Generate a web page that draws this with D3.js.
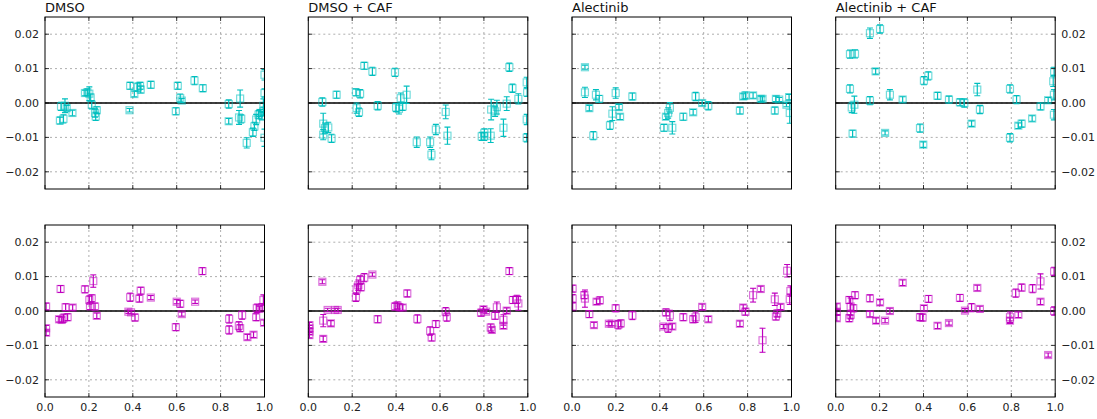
<!DOCTYPE html>
<html><head><meta charset="utf-8">
<script src="https://cdn.jsdelivr.net/npm/d3@7"></script>
<style>
html,body{margin:0;padding:0;background:#fff;}
svg{display:block;font-family:"DejaVu Sans",sans-serif;}
</style></head>
<body><svg id="chart" width="1097" height="419"></svg>
<script>
const titles = ["DMSO", "DMSO + CAF", "Alectinib", "Alectinib + CAF"];
const xTicks = [0, 0.2, 0.4, 0.6, 0.8, 1.0];
const yTicks = [-0.02, -0.01, 0, 0.01, 0.02];
const rowColors = ["#00BFBF", "#BF00BF"];

// [x, y, err]
const dmsoTop = [[0.068,-0.0051,0.0010],[0.084,-0.0046,0.0012],[0.073,-0.0010,0.0012],[0.091,-0.0008,0.0020],[0.099,-0.0015,0.0008],[0.125,-0.0029,0.0008],[0.182,0.0029,0.0008],[0.193,0.0031,0.0010],[0.202,0.0027,0.0020],[0.208,0.0016,0.0010],[0.213,-0.0005,0.0012],[0.228,-0.0029,0.0012],[0.236,-0.0021,0.0010],[0.231,-0.0039,0.0012],[0.385,-0.0021,0.0005],[0.388,0.0050,0.0010],[0.407,0.0026,0.0008],[0.422,0.0046,0.0012],[0.433,0.0050,0.0010],[0.436,0.0039,0.0010],[0.482,0.0053,0.0010],[0.596,-0.0024,0.0010],[0.605,0.0050,0.0010],[0.616,0.0014,0.0012],[0.623,0.0007,0.0006],[0.681,0.0065,0.0012],[0.719,0.0043,0.0010],[0.837,-0.0003,0.0012],[0.837,-0.0053,0.0008],[0.884,-0.0042,0.0020],[0.889,0.0013,0.0025],[0.894,-0.0046,0.0012],[0.919,-0.0116,0.0015],[0.947,-0.0085,0.0012],[0.954,-0.0068,0.0012],[0.962,-0.0048,0.0015],[0.973,-0.0034,0.0012],[0.980,-0.0029,0.0010],[0.988,-0.0037,0.0012],[0.995,-0.0008,0.0020],[1.0,0.0029,0.0012],[1.0,0.0082,0.0015],[1.0,-0.0101,0.0025],[0.995,-0.0024,0.0012]];
const dmsoBottom = [[0.005,0.0013,0.0010],[0.005,-0.0050,0.0008],[0.005,-0.0063,0.0008],[0.071,0.0064,0.0010],[0.064,-0.0024,0.0008],[0.076,-0.0026,0.0008],[0.084,-0.0021,0.0012],[0.094,0.0011,0.0010],[0.103,-0.0018,0.0010],[0.126,0.0010,0.0008],[0.182,0.0063,0.0010],[0.202,0.0032,0.0012],[0.205,0.0014,0.0010],[0.213,0.0037,0.0010],[0.220,0.0087,0.0018],[0.228,0.0013,0.0010],[0.236,-0.0014,0.0008],[0.380,-0.0002,0.0005],[0.388,0.0040,0.0012],[0.392,-0.0004,0.0005],[0.410,-0.0019,0.0010],[0.430,0.0036,0.0010],[0.436,0.0059,0.0010],[0.482,0.0039,0.0006],[0.596,-0.0047,0.0010],[0.600,0.0027,0.0006],[0.616,0.0021,0.0010],[0.623,-0.0009,0.0006],[0.684,0.0027,0.0005],[0.717,0.0116,0.0010],[0.839,-0.0023,0.0012],[0.839,-0.0055,0.0012],[0.883,-0.0043,0.0012],[0.889,-0.0050,0.0010],[0.898,-0.0012,0.0012],[0.922,-0.0076,0.0008],[0.950,-0.0069,0.0008],[0.962,-0.0018,0.0010],[0.965,0.0008,0.0012],[0.977,0.0006,0.0008],[0.989,0.0011,0.0010],[0.995,0.0032,0.0015],[0.998,-0.0034,0.0008]];
const dmsoCafTop = [[0.064,0.0003,0.0012],[0.068,-0.0060,0.0030],[0.076,-0.0073,0.0015],[0.068,-0.0092,0.0015],[0.091,-0.0071,0.0015],[0.106,-0.0103,0.0012],[0.129,0.0024,0.0010],[0.217,0.0031,0.0010],[0.236,0.0027,0.0012],[0.220,-0.0015,0.0015],[0.231,-0.0027,0.0012],[0.255,0.0108,0.0010],[0.292,0.0092,0.0012],[0.316,-0.0008,0.0012],[0.395,0.0089,0.0012],[0.400,-0.0013,0.0012],[0.413,-0.0017,0.0015],[0.421,0.0014,0.0015],[0.430,-0.0010,0.0012],[0.448,0.0024,0.0025],[0.494,-0.0114,0.0015],[0.555,-0.0114,0.0015],[0.561,-0.0150,0.0015],[0.581,-0.0077,0.0015],[0.626,-0.0026,0.0020],[0.634,-0.0095,0.0025],[0.790,-0.0097,0.0012],[0.801,-0.0097,0.0012],[0.802,-0.0087,0.0012],[0.831,-0.0095,0.0020],[0.833,-0.0019,0.0030],[0.851,-0.0024,0.0015],[0.859,-0.0012,0.0020],[0.889,-0.0072,0.0025],[0.904,-0.0002,0.0020],[0.916,0.0104,0.0012],[0.930,0.0043,0.0012],[0.957,0.0012,0.0015],[0.995,0.0060,0.0015],[0.997,0.0031,0.0012],[0.995,-0.0048,0.0015],[0.995,-0.0101,0.0012]];
const dmsoCafBottom = [[0.005,-0.0041,0.0008],[0.005,-0.0050,0.0008],[0.005,-0.0060,0.0008],[0.005,-0.0070,0.0008],[0.064,0.0085,0.0006],[0.068,-0.0028,0.0018],[0.068,-0.0081,0.0008],[0.088,0.0003,0.0005],[0.103,-0.0036,0.0008],[0.122,0.0003,0.0005],[0.134,0.0003,0.0005],[0.217,0.0040,0.0012],[0.220,0.0063,0.0015],[0.228,0.0075,0.0015],[0.236,0.0090,0.0012],[0.240,0.0069,0.0010],[0.255,0.0097,0.0012],[0.292,0.0106,0.0005],[0.316,-0.0024,0.0010],[0.395,0.0013,0.0010],[0.406,0.0016,0.0010],[0.415,0.0011,0.0010],[0.430,0.0010,0.0008],[0.451,0.0051,0.0010],[0.497,-0.0023,0.0012],[0.555,-0.0058,0.0012],[0.562,-0.0077,0.0010],[0.581,-0.0038,0.0010],[0.626,-0.0002,0.0012],[0.631,-0.0018,0.0012],[0.787,-0.0005,0.0010],[0.798,0.0005,0.0008],[0.810,-0.0002,0.0006],[0.831,-0.0048,0.0010],[0.836,-0.0055,0.0008],[0.851,-0.0014,0.0010],[0.859,0.0011,0.0015],[0.889,-0.0026,0.0015],[0.889,-0.0043,0.0008],[0.904,0.0001,0.0008],[0.916,0.0116,0.0010],[0.932,0.0032,0.0010],[0.950,0.0034,0.0012],[0.957,0.0022,0.0020]];
const alecTop = [[0.059,0.0104,0.0006],[0.059,0.0031,0.0015],[0.079,-0.0015,0.0008],[0.097,-0.0095,0.0012],[0.109,0.0024,0.0015],[0.124,0.0012,0.0010],[0.173,-0.0065,0.0012],[0.184,-0.0031,0.0020],[0.199,0.0029,0.0015],[0.214,-0.0012,0.0008],[0.219,-0.0040,0.0008],[0.275,0.0019,0.0010],[0.419,-0.0072,0.0010],[0.428,-0.0040,0.0008],[0.438,-0.0029,0.0015],[0.446,-0.0014,0.0015],[0.457,-0.0072,0.0018],[0.507,-0.0040,0.0010],[0.552,-0.0027,0.0008],[0.563,0.0019,0.0012],[0.593,0.0000,0.0008],[0.621,-0.0008,0.0012],[0.765,-0.0022,0.0010],[0.780,0.0019,0.0008],[0.790,0.0022,0.0010],[0.825,0.0022,0.0008],[0.860,0.0012,0.0008],[0.868,0.0012,0.0006],[0.924,-0.0022,0.0010],[0.929,0.0012,0.0008],[0.944,0.0010,0.0006],[0.977,-0.0005,0.0006],[0.989,0.0017,0.0008],[0.992,-0.0029,0.0030]];
const alecBottom = [[0.003,0.0065,0.0010],[0.003,0.0036,0.0012],[0.003,0.0013,0.0012],[0.059,0.0036,0.0025],[0.056,0.0046,0.0010],[0.079,-0.0009,0.0010],[0.100,-0.0041,0.0008],[0.112,0.0027,0.0008],[0.127,0.0031,0.0010],[0.168,-0.0037,0.0006],[0.181,-0.0037,0.0006],[0.199,0.0008,0.0010],[0.211,-0.0040,0.0012],[0.222,-0.0036,0.0010],[0.275,-0.0013,0.0012],[0.416,-0.0045,0.0006],[0.428,-0.0004,0.0010],[0.438,-0.0050,0.0012],[0.446,-0.0013,0.0015],[0.457,-0.0045,0.0008],[0.507,-0.0018,0.0010],[0.552,-0.0024,0.0010],[0.563,-0.0018,0.0015],[0.593,0.0012,0.0008],[0.621,-0.0024,0.0008],[0.765,-0.0037,0.0008],[0.780,0.0010,0.0008],[0.790,-0.0002,0.0010],[0.825,0.0046,0.0020],[0.860,0.0064,0.0008],[0.868,-0.0085,0.0035],[0.924,0.0034,0.0018],[0.929,-0.0016,0.0010],[0.935,-0.0007,0.0010],[0.950,0.0012,0.0008],[0.980,0.0117,0.0018],[0.992,0.0034,0.0015],[0.995,0.0058,0.0015]];
const alecCafTop = [[0.065,0.0142,0.0012],[0.088,0.0143,0.0012],[0.065,0.0041,0.0012],[0.073,-0.0013,0.0015],[0.085,-0.0005,0.0025],[0.077,-0.0089,0.0010],[0.156,0.0203,0.0015],[0.156,0.0007,0.0012],[0.202,0.0215,0.0012],[0.182,0.0092,0.0008],[0.225,-0.0087,0.0006],[0.247,0.0024,0.0015],[0.305,0.0010,0.0008],[0.384,-0.0073,0.0012],[0.399,-0.0121,0.0008],[0.402,0.0065,0.0012],[0.422,0.0079,0.0012],[0.464,0.0021,0.0010],[0.516,0.0010,0.0010],[0.566,0.0002,0.0010],[0.586,0.0000,0.0012],[0.619,-0.0060,0.0008],[0.645,0.0039,0.0018],[0.657,-0.0019,0.0012],[0.794,0.0041,0.0012],[0.794,-0.0101,0.0012],[0.824,0.0010,0.0012],[0.832,-0.0066,0.0008],[0.847,-0.0060,0.0010],[0.895,-0.0045,0.0008],[0.933,-0.0010,0.0010],[0.968,0.0008,0.0008],[0.991,0.0063,0.0015],[0.994,0.0024,0.0015],[0.994,-0.0034,0.0015],[0.995,0.0092,0.0012]];
const alecCafBottom = [[0.005,0.0013,0.0008],[0.005,-0.0002,0.0008],[0.005,-0.0021,0.0008],[0.062,0.0032,0.0010],[0.062,-0.0021,0.0010],[0.068,0.0013,0.0025],[0.068,-0.0011,0.0012],[0.080,0.0008,0.0010],[0.088,0.0046,0.0010],[0.156,0.0037,0.0010],[0.156,-0.0009,0.0008],[0.184,-0.0028,0.0008],[0.202,0.0025,0.0008],[0.225,-0.0028,0.0006],[0.247,0.0000,0.0008],[0.305,0.0082,0.0008],[0.384,-0.0018,0.0010],[0.396,-0.0019,0.0010],[0.402,0.0008,0.0008],[0.423,0.0035,0.0010],[0.464,-0.0043,0.0008],[0.516,-0.0035,0.0006],[0.566,0.0038,0.0010],[0.589,0.0001,0.0006],[0.619,0.0010,0.0012],[0.645,0.0067,0.0008],[0.657,0.0006,0.0008],[0.794,-0.0018,0.0015],[0.794,-0.0028,0.0008],[0.820,0.0052,0.0012],[0.832,-0.0011,0.0008],[0.847,0.0068,0.0010],[0.897,0.0065,0.0012],[0.933,0.0086,0.0022],[0.933,0.0027,0.0008],[0.968,-0.0128,0.0006],[0.995,0.0115,0.0012],[0.995,0.0000,0.0012]];

const panelData = [
  [dmsoTop, dmsoCafTop, alecTop, alecCafTop],
  [dmsoBottom, dmsoCafBottom, alecBottom, alecCafBottom]
];

const svg = d3.select("#chart");
const lefts = [45, 308.3, 572, 835.7];
const tops = [17, 225];
const W = 219.5, H = 172;
const fmtY = v => (v < 0 ? "\u2212" : "") + Math.abs(v).toFixed(2);
const fmtX = v => v.toFixed(1);
const defs = svg.append("defs");

for (let r = 0; r < 2; r++) {
  for (let c = 0; c < 4; c++) {
    const data = panelData[r][c];
    const color = rowColors[r];
    const x = d3.scaleLinear().domain([0, 1]).range([0, W]);
    const y = d3.scaleLinear().domain([-0.025, 0.025]).range([H, 0]);
    const g = svg.append("g").attr("transform", `translate(${lefts[c]},${tops[r]})`);
    const cid = `clip${r}${c}`;
    defs.append("clipPath").attr("id", cid).append("rect").attr("x", 0).attr("y", 0).attr("width", W).attr("height", H);

    // grid
    const grid = g.append("g");
    grid.selectAll("line.gx").data(xTicks.slice(1, -1)).join("line")
      .attr("x1", d => x(d)).attr("x2", d => x(d)).attr("y1", 0).attr("y2", H)
      .attr("stroke", "#999").attr("stroke-width", 0.8).attr("stroke-dasharray", "2,3");
    grid.selectAll("line.gy").data(yTicks).join("line")
      .attr("x1", 0).attr("x2", W).attr("y1", d => y(d)).attr("y2", d => y(d))
      .attr("stroke", "#999").attr("stroke-width", 0.8).attr("stroke-dasharray", "2,3");

    // zero line
    g.append("line").attr("x1", 0).attr("x2", W).attr("y1", y(0)).attr("y2", y(0))
      .attr("stroke", "#000").attr("stroke-width", 1.3);

    // data
    const pts = g.append("g").attr("clip-path", `url(#${cid})`);
    const pg = pts.selectAll("g").data(data).join("g");
    pg.append("line")
      .attr("x1", d => x(d[0])).attr("x2", d => x(d[0]))
      .attr("y1", d => y(d[1] - d[2])).attr("y2", d => y(d[1] + d[2]))
      .attr("stroke", color).attr("stroke-width", 1.2);
    pg.append("line")
      .attr("x1", d => x(d[0]) - 3).attr("x2", d => x(d[0]) + 3)
      .attr("y1", d => y(d[1] + d[2])).attr("y2", d => y(d[1] + d[2]))
      .attr("stroke", color).attr("stroke-width", 1.1);
    pg.append("line")
      .attr("x1", d => x(d[0]) - 3).attr("x2", d => x(d[0]) + 3)
      .attr("y1", d => y(d[1] - d[2])).attr("y2", d => y(d[1] - d[2]))
      .attr("stroke", color).attr("stroke-width", 1.1);
    pg.append("rect")
      .attr("x", d => x(d[0]) - 3.5).attr("y", d => y(d[1]) - 3.5)
      .attr("width", 7).attr("height", 7)
      .attr("fill", "none").attr("stroke", color).attr("stroke-opacity", 0.55).attr("stroke-width", 1.2);

    // inward ticks
    const tk = g.append("g").attr("stroke", "#000").attr("stroke-width", 0.8);
    xTicks.forEach(t => {
      tk.append("line").attr("x1", x(t)).attr("x2", x(t)).attr("y1", H).attr("y2", H - 4);
      tk.append("line").attr("x1", x(t)).attr("x2", x(t)).attr("y1", 0).attr("y2", 4);
    });
    yTicks.forEach(t => {
      tk.append("line").attr("x1", 0).attr("x2", 4).attr("y1", y(t)).attr("y2", y(t));
      tk.append("line").attr("x1", W).attr("x2", W - 4).attr("y1", y(t)).attr("y2", y(t));
    });

    // frame
    g.append("rect").attr("x", 0).attr("y", 0).attr("width", W).attr("height", H)
      .attr("fill", "none").attr("stroke", "#000").attr("stroke-width", 1);

    // tick labels
    if (c === 0) {
      g.selectAll("text.yl").data(yTicks).join("text")
        .attr("x", -6).attr("y", d => y(d)).attr("dy", "0.35em")
        .attr("text-anchor", "end").attr("font-size", 11).attr("fill", "#222")
        .text(fmtY);
    }
    if (c === 3) {
      g.selectAll("text.yr").data(yTicks).join("text")
        .attr("x", W + 6).attr("y", d => y(d)).attr("dy", "0.35em")
        .attr("text-anchor", "start").attr("font-size", 11).attr("fill", "#222")
        .text(fmtY);
    }
    if (r === 1) {
      g.selectAll("text.xl").data(xTicks).join("text")
        .attr("x", d => x(d)).attr("y", H + 14)
        .attr("text-anchor", "middle").attr("font-size", 11).attr("fill", "#222")
        .text(fmtX);
    }
    if (r === 0) {
      g.append("text").attr("x", 0).attr("y", -5)
        .attr("font-size", 13).attr("fill", "#111").text(titles[c]);
    }
  }
}
</script></body></html>
